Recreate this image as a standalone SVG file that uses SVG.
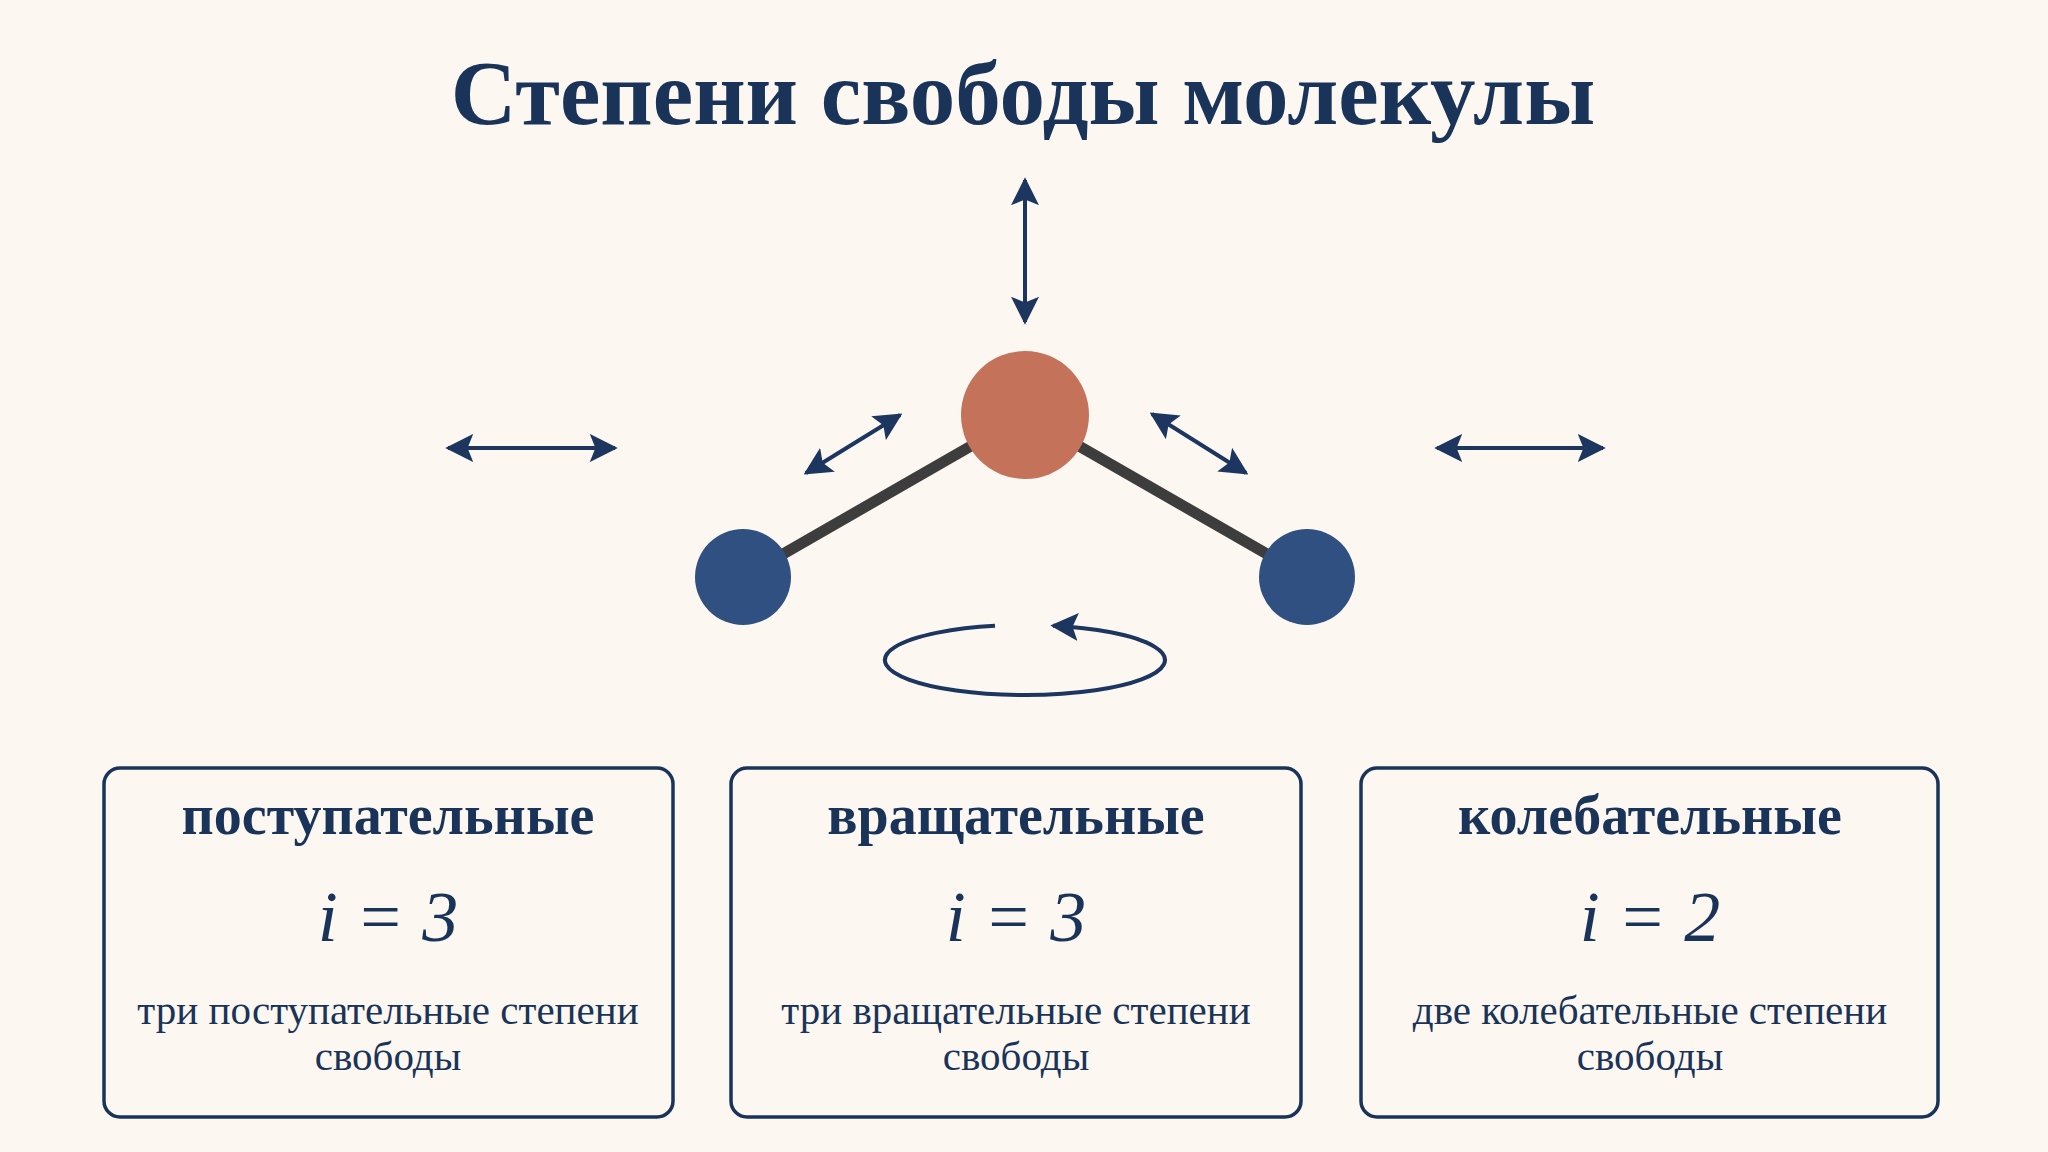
<svg xmlns="http://www.w3.org/2000/svg" width="2048" height="1152" viewBox="0 0 2048 1152">
<defs>
<marker id="ah" viewBox="0 0 10 10" refX="9" refY="5" markerWidth="7" markerHeight="7" orient="auto-start-reverse" markerUnits="strokeWidth"><path d="M0,0 L10,5 L0,10 L2,5 Z" fill="#1d365f"/></marker>
<style>
.t{font-family:"Liberation Serif",serif;fill:#1a3358;text-anchor:middle}
.arr{stroke:#1d365f;stroke-width:4;fill:none;marker-start:url(#ah);marker-end:url(#ah)}
.box{fill:none;stroke:#1a3358;stroke-width:3.5}
.bond{stroke:#3d3d3d;stroke-width:11;stroke-linecap:round}
</style>
</defs>
<rect width="2048" height="1152" fill="#fcf8f1"/>
<text class="t" x="1023" y="124" font-size="91" font-weight="bold">Степени свободы молекулы</text>
<g id="connectors">
<line class="arr" x1="1025" y1="180" x2="1025" y2="322"/>
<line class="arr" x1="448" y1="448" x2="615" y2="448"/>
<line class="arr" x1="1437" y1="448" x2="1603" y2="448"/>
<line class="arr" x1="806" y1="473" x2="900" y2="415"/>
<line class="arr" x1="1152" y1="414" x2="1246" y2="473"/>
<path d="M 995 625.8 A 140 35 0 1 0 1053 625.7" stroke="#1d365f" stroke-width="4" fill="none" marker-end="url(#ah)"/>
</g>
<g id="molecule">
<line class="bond" x1="743" y1="577" x2="1025" y2="415"/>
<line class="bond" x1="1307" y1="577" x2="1025" y2="415"/>
<circle cx="1025" cy="415" r="64" fill="#c4735a"/>
<circle cx="743" cy="577" r="48" fill="#2f5080"/>
<circle cx="1307" cy="577" r="48" fill="#2f5080"/>
</g>
<g id="box1">
<rect class="box" x="104" y="768" width="569" height="349" rx="16"/>
<text class="t" x="388" y="834" font-size="56" font-weight="bold">поступательные</text>
<text class="t" x="388" y="941" font-size="72" font-style="italic">i = 3</text>
<text class="t" x="388" y="1024" font-size="41">три поступательные степени</text>
<text class="t" x="388" y="1070" font-size="41">свободы</text>
</g>
<g id="box2">
<rect class="box" x="731" y="768" width="570" height="349" rx="16"/>
<text class="t" x="1016" y="834" font-size="56" font-weight="bold">вращательные</text>
<text class="t" x="1016" y="941" font-size="72" font-style="italic">i = 3</text>
<text class="t" x="1016" y="1024" font-size="41">три вращательные степени</text>
<text class="t" x="1016" y="1070" font-size="41">свободы</text>
</g>
<g id="box3">
<rect class="box" x="1361" y="768" width="577" height="349" rx="16"/>
<text class="t" x="1650" y="834" font-size="56" font-weight="bold">колебательные</text>
<text class="t" x="1650" y="941" font-size="72" font-style="italic">i = 2</text>
<text class="t" x="1650" y="1024" font-size="41">две колебательные степени</text>
<text class="t" x="1650" y="1070" font-size="41">свободы</text>
</g>
</svg>
